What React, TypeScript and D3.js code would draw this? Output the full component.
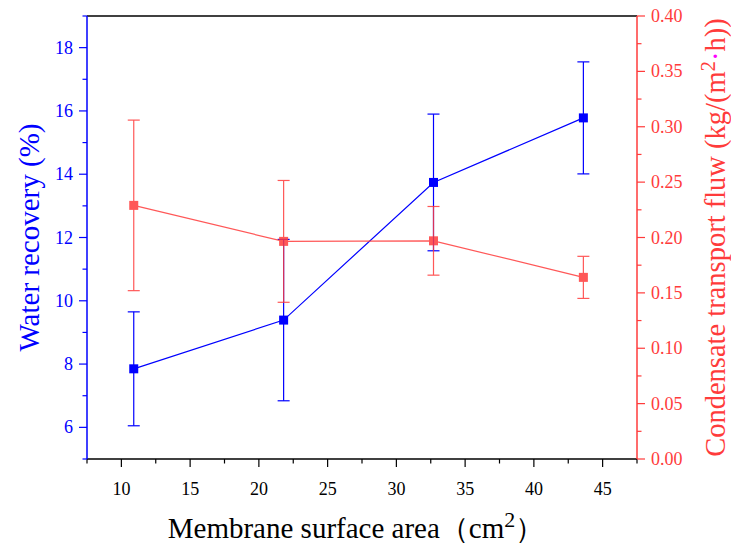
import React from "react";
import * as d3 from "d3";

const areas = [10.9, 21.8, 32.7, 43.6];
const recovery = [7.85, 9.39, 13.74, 15.78];
const recoveryErr = [1.8, 2.55, 2.16, 1.77];
const flux = [0.229, 0.1965, 0.197, 0.164];
const fluxErr = [0.077, 0.055, 0.031, 0.019];
const xTicks = [10, 15, 20, 25, 30, 35, 40, 45];
const xMinor = [7.5, 12.5, 17.5, 22.5, 27.5, 32.5, 37.5, 42.5, 47.5];
const yLeftTicks = [6, 8, 10, 12, 14, 16, 18];
const yLeftMinor = [5, 7, 9, 11, 13, 15, 17, 19];
const yRightTicks = [0, 0.05, 0.1, 0.15, 0.2, 0.25, 0.3, 0.35, 0.4];
const yRightMinor = [0.025, 0.075, 0.125, 0.175, 0.225, 0.275, 0.325, 0.375];

const W = 731, H = 545;
const L = 87, R = 637, T = 16, B = 459;
const BLUE = "#0000ff";
const RED = "#ff3b3b";
const FONT = "'Liberation Serif', 'Times New Roman', serif";
const tf = { fontFamily: FONT };

export default function App() {
  const x = d3.scaleLinear().domain([7.5, 47.5]).range([L, R]);
  const yl = d3.scaleLinear().domain([5, 19]).range([B, T]);
  const yr = d3.scaleLinear().domain([0, 0.4]).range([B, T]);
  const lineL = d3.line<number>().x((_, i) => x(areas[i])).y((d) => yl(d));
  const lineR = d3.line<number>().x((_, i) => x(areas[i])).y((d) => yr(d));
  const ms = 9, cap = 6;
  return (
    <svg width={W} height={H} style={{ position: "absolute", left: 0, top: 0, background: "#fff" }}>
      {/* top frame */}
      <line x1={L} x2={R} y1={T} y2={T} stroke="#000" strokeWidth={1.5} />
      {/* bottom axis */}
      <line x1={L} x2={R} y1={B} y2={B} stroke="#000" strokeWidth={1.5} />
      {xTicks.map((t) => (
        <g key={"xt" + t}>
          <line x1={x(t)} x2={x(t)} y1={B} y2={B + 8} stroke="#000" strokeWidth={1.2} />
          <text x={x(t)} y={B + 36} fontSize={18} textAnchor="middle" fill="#000" style={tf}>{t}</text>
        </g>
      ))}
      {xMinor.map((t) => (
        <line key={"xm" + t} x1={x(t)} x2={x(t)} y1={B} y2={B + 4.5} stroke="#000" strokeWidth={1.2} />
      ))}
      <text x={356} y={538} fontSize={29} textAnchor="middle" fill="#000" style={tf}>
        Membrane surface area（cm<tspan fontSize={22} dy={-11}>2</tspan><tspan dy={11}>）</tspan>
      </text>
      {/* left axis */}
      <line x1={L} x2={L} y1={T} y2={B} stroke={BLUE} strokeWidth={1.5} />
      {yLeftTicks.map((t) => (
        <g key={"yl" + t}>
          <line x1={L - 8} x2={L} y1={yl(t)} y2={yl(t)} stroke={BLUE} strokeWidth={1.2} />
          <text x={L - 14} y={yl(t) + 6} fontSize={18} textAnchor="end" fill={BLUE} style={tf}>{t}</text>
        </g>
      ))}
      {yLeftMinor.map((t) => (
        <line key={"ylm" + t} x1={L - 4.5} x2={L} y1={yl(t)} y2={yl(t)} stroke={BLUE} strokeWidth={1.2} />
      ))}
      <text transform={`translate(39,${(T + B) / 2}) rotate(-90)`} fontSize={29} textAnchor="middle" fill={BLUE} style={tf}>
        Water recovery (%)
      </text>
      {/* right axis */}
      <line x1={R} x2={R} y1={T} y2={B} stroke={RED} strokeWidth={1.5} />
      {yRightTicks.map((t) => (
        <g key={"yr" + t}>
          <line x1={R} x2={R + 8} y1={yr(t)} y2={yr(t)} stroke={RED} strokeWidth={1.2} />
          <text x={R + 14} y={yr(t) + 6} fontSize={18} textAnchor="start" fill={RED} style={tf}>{d3.format(".2f")(t)}</text>
        </g>
      ))}
      {yRightMinor.map((t) => (
        <line key={"yrm" + t} x1={R} x2={R + 4.5} y1={yr(t)} y2={yr(t)} stroke={RED} strokeWidth={1.2} />
      ))}
      <text transform={`translate(725,${(T + B) / 2}) rotate(-90)`} fontSize={28.5} textAnchor="middle" fill={RED} style={tf}>
        Condensate transport fluw (kg/(m<tspan fontSize={21} dy={-10}>2</tspan><tspan dy={10} fill="#ff00ff">·</tspan>h))
      </text>
      {/* blue series */}
      <path d={lineL(recovery) || ""} fill="none" stroke={BLUE} strokeWidth={1.2} />
      {recovery.map((v, i) => {
        const cx = x(areas[i]);
        const y1 = yl(v + recoveryErr[i]), y2 = yl(v - recoveryErr[i]);
        return (
          <g key={"b" + i} stroke={BLUE} strokeWidth={1.2}>
            <line x1={cx} x2={cx} y1={y1} y2={y2} />
            <line x1={cx - cap} x2={cx + cap} y1={y1} y2={y1} />
            <line x1={cx - cap} x2={cx + cap} y1={y2} y2={y2} />
            <rect x={cx - ms / 2} y={yl(v) - ms / 2} width={ms} height={ms} fill={BLUE} stroke="none" />
          </g>
        );
      })}
      {/* red series */}
      <g opacity={0.85}>
        <path d={lineR(flux) || ""} fill="none" stroke={RED} strokeWidth={1.2} />
        {flux.map((v, i) => {
          const cx = x(areas[i]);
          const y1 = yr(v + fluxErr[i]), y2 = yr(v - fluxErr[i]);
          return (
            <g key={"r" + i} stroke={RED} strokeWidth={1.2}>
              <line x1={cx} x2={cx} y1={y1} y2={y2} />
              <line x1={cx - cap} x2={cx + cap} y1={y1} y2={y1} />
              <line x1={cx - cap} x2={cx + cap} y1={y2} y2={y2} />
              <rect x={cx - ms / 2} y={yr(v) - ms / 2} width={ms} height={ms} fill={RED} stroke="none" />
            </g>
          );
        })}
      </g>
    </svg>
  );
}
